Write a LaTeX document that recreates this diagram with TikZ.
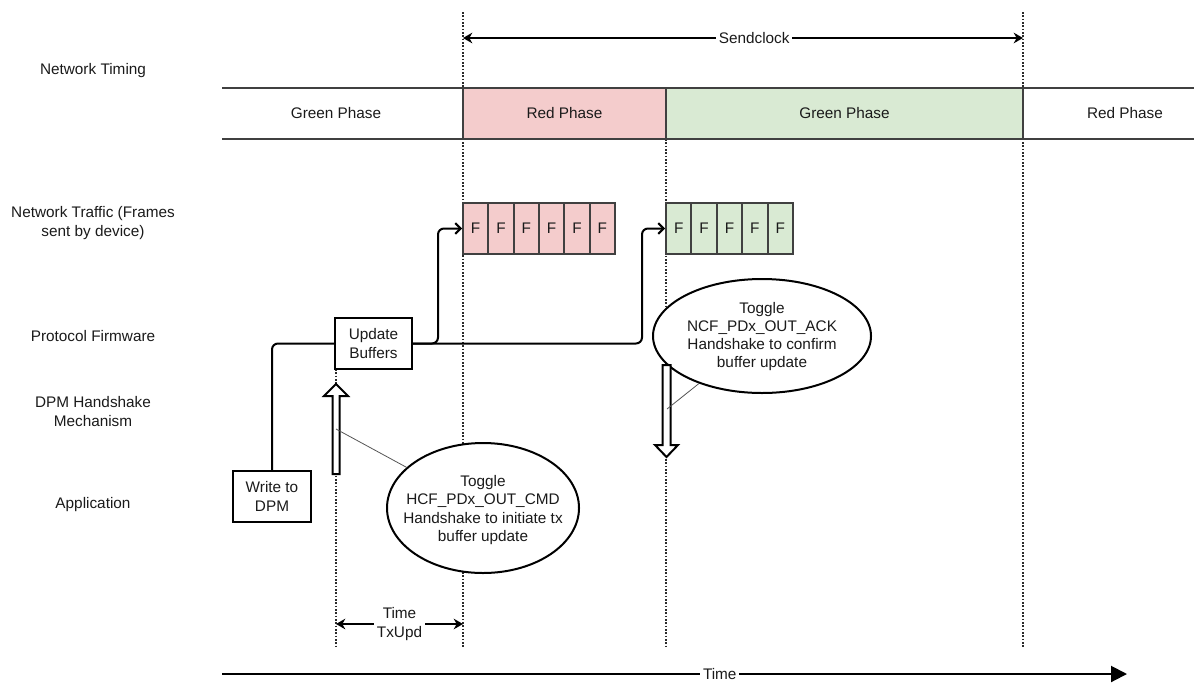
\documentclass[tikz,border=0pt]{standalone}
\usepackage{fontspec}
\setmainfont{Liberation Sans}
\usetikzlibrary{shapes.geometric,arrows.meta}
\definecolor{redph}{HTML}{F4CCCC}
\definecolor{greenph}{HTML}{D9EAD3}
\definecolor{bord}{HTML}{404040}
\definecolor{txt}{HTML}{1A1A1A}
\definecolor{thin}{HTML}{555555}
\definecolor{dotc}{HTML}{2A2A2A}
\begin{document}
\begin{tikzpicture}[x=0.75pt,y=-0.75pt,
  font=\fontsize{11.5}{13.6}\selectfont, text=txt,
  lbl/.style={align=center, inner sep=0pt},
  dotline/.style={line width=1.6pt, draw=dotc, dash pattern=on 1.2pt off 1.3pt},
  bandline/.style={line width=1.5pt, draw=bord},
  phasebox/.style={draw=bord, line width=1.5pt, minimum height=38.25pt, inner sep=0pt},
  framebox/.style={draw=bord, line width=1.5pt, minimum width=19pt, minimum height=38.25pt, inner sep=0pt},
  procbox/.style={draw=black, line width=1.5pt, fill=white, align=center, minimum width=58pt, minimum height=38.25pt, inner sep=0pt},
  conn/.style={line width=1.5pt, draw=black, rounded corners=4.5pt},
  bubble/.style={ellipse, draw=black, line width=1.5pt, fill=white, inner sep=0pt},
  blockarrow/.style={draw=black, line width=1.5pt, fill=white, line join=miter},
  note/.style={draw=thin, line width=0.6pt},
  dimarrow/.style={line width=1.5pt, draw=black, {Stealth[length=7pt,width=8pt]}-{Stealth[length=7pt,width=8pt]}}
]
\useasboundingbox (0,0) rectangle (1194,682);

% left row labels
\node[lbl] (l1) at (93,71) {Network Timing};
\node[lbl] (l2) at (93,223) {Network Traffic (Frames\\sent by device)};
\node[lbl] (l3) at (93,336) {Protocol Firmware};
\node[lbl] (l4) at (93,411.5) {DPM Handshake\\Mechanism};
\node[lbl] (l5) at (93,505) {Application};

% dotted time markers
\coordinate (d1t) at (336,369); \coordinate (d1b) at (336,647);
\coordinate (d2t) at (463,12);  \coordinate (d2b) at (463,647);
\coordinate (d3t) at (666,139); \coordinate (d3b) at (666,647);
\coordinate (d4t) at (1023,12); \coordinate (d4b) at (1023,647);
\draw[dotline] (d1t) -- (d1b);
\draw[dotline] (d2t) -- (d2b);
\draw[dotline] (d3t) -- (d3b);
\draw[dotline] (d4t) -- (d4b);

% phase band
\node[phasebox, fill=redph, minimum width=152.25pt] (rp1) at (564.5,113.5) {Red Phase};
\node[phasebox, fill=greenph, minimum width=267.75pt] (gp1) at (844.5,113.5) {Green Phase};
\node[lbl] (gp0) at (336,113.5) {Green Phase};
\node[lbl] (rp2) at (1125,113.5) {Red Phase};
\coordinate (bl1) at (222,88);  \coordinate (br1) at (1194,88);
\coordinate (bl2) at (222,139); \coordinate (br2) at (1194,139);
\draw[bandline] (bl1) -- (br1);
\draw[bandline] (bl2) -- (br2);

% sendclock
\draw[dimarrow] (463,38) coordinate (sc1) -- (1023,38) coordinate (sc2)
  node[pos=0.52, fill=white, inner sep=2pt] (scl) {Sendclock};

% frames
\foreach \i in {1,...,6} {
  \node[framebox, fill=redph] (r\i) at ({463+25.33*(\i-0.5)},228.5) {F};
}
\foreach \i in {1,...,5} {
  \node[framebox, fill=greenph] (g\i) at ({666+25.4*(\i-0.5)},228.5) {F};
}

% process boxes
\node[procbox] (ub) at (373.5,343.5) {Update\\Buffers};
\node[procbox] (wd) at (272,496.5) {Write to\\DPM};

% connectors
\draw[conn] (wd.north) |- (ub.west);
\coordinate (k1) at (438,343.5);
\coordinate (k2) at (642,343.5);
\draw[conn, -{Straight Barb[length=4pt,width=8pt]}] (ub.east) -- (k1) |- (r1.west);
\draw[conn, -{Straight Barb[length=4pt,width=8pt]}] (ub.east) -- (k2) |- (g1.west);

% bubbles
\node[bubble, minimum width=144pt, minimum height=97.5pt] (e1) at (483,508) {};
\node[lbl] (e1t) at (483,510) {Toggle\\HCF\_PDx\_OUT\_CMD\\Handshake to initiate tx\\buffer update};
\node[bubble, minimum width=163.5pt, minimum height=85.5pt] (e2) at (762,336) {};
\node[lbl] (e2t) at (762,336.5) {Toggle\\NCF\_PDx\_OUT\_ACK\\Handshake to confirm\\buffer update};

% block arrows
\draw[blockarrow] (332.5,474) -- (332.5,396) -- (324,396) -- (336,384) -- (348,396) -- (339.5,396) -- (339.5,474) -- cycle;
\draw[blockarrow] (662.5,365) -- (662.5,445) -- (655,445) -- (666.5,457) -- (678,445) -- (670.5,445) -- (670.5,365) -- cycle;
\coordinate (a1m) at (336,429);
\coordinate (a2m) at (667,409);
\draw[note] (e1.152) -- (a1m);
\draw[note] (e2.217) -- (a2m);

% TxUpd
\coordinate (t1) at (336,624);
\coordinate (t2) at (463,624);
\draw[dimarrow] (t1) -- (t2) node[midway, fill=white, inner sep=2pt, align=center] (tl) {Time\\TxUpd};

% time axis
\coordinate (ta) at (222,674);
\coordinate (tb) at (1127,674);
\draw[line width=1.5pt, -{Triangle[length=12pt,width=12pt]}] (ta) -- (tb)
  node[pos=0.55, fill=white, inner sep=2pt] (tlab) {Time};
\end{tikzpicture}
\end{document}
